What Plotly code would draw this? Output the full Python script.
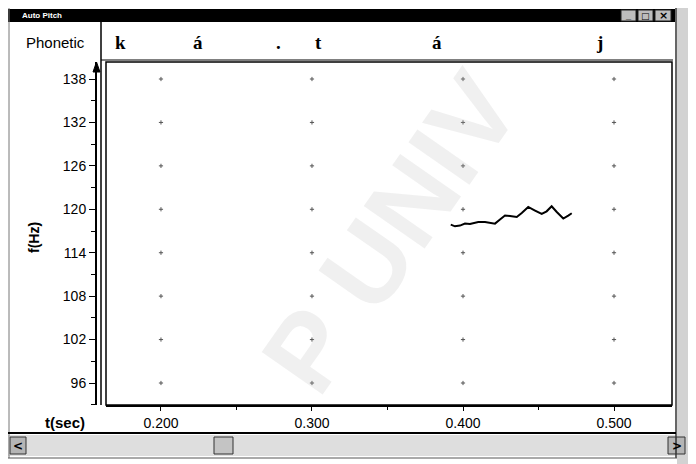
import plotly.graph_objects as go

# ---------------- data ----------------
time_s = [0.3919, 0.3947, 0.3980, 0.4013, 0.4046, 0.4068, 0.4101, 0.4146,
          0.4179, 0.4212, 0.4245, 0.4278, 0.4311, 0.4356, 0.4389, 0.4432,
          0.4477, 0.4521, 0.4554, 0.4587, 0.4621, 0.4664, 0.4697, 0.4720]
pitch_hz = [117.89, 117.65, 117.75, 118.02, 117.97, 118.11, 118.25, 118.25,
            118.11, 118.02, 118.58, 119.13, 119.07, 118.94, 119.49, 120.32,
            119.82, 119.35, 119.72, 120.41, 119.63, 118.72, 119.13, 119.45]

x_ticks = [0.2, 0.3, 0.4, 0.5]
x_tick_labels = ["0.200", "0.300", "0.400", "0.500"]
y_ticks = [96, 102, 108, 114, 120, 126, 132, 138]

phonetic_labels = ["k", "á", ".", "t", "á", "j"]
phonetic_times = [0.1735, 0.2245, 0.2775, 0.3046, 0.3828, 0.4901]

# the page body has an 8px margin, so the figure is drawn 8px in from the window corner
OFF = 8
W, H = 696 - OFF, 464 - OFF


def PX(px):
    return (px - OFF) / W


def PY(py):
    return 1 - (py - OFF) / H


fig = go.Figure()

# grid "+" marks at major tick intersections
gx = [t for t in x_ticks for _ in y_ticks]
gy = [v for _ in x_ticks for v in y_ticks]
fig.add_trace(go.Scatter(
    x=gx, y=gy, mode="markers",
    marker=dict(symbol="cross-thin", size=3, line=dict(width=1, color="#555555")),
    hoverinfo="skip", showlegend=False))

# pitch contour
fig.add_trace(go.Scatter(
    x=time_s, y=pitch_hz, mode="lines",
    line=dict(color="black", width=2), showlegend=False))

shapes = []


def rect(x0, y0, x1, y1, fill=None, line_color="black", lw=1):
    shapes.append(dict(type="rect", xref="paper", yref="paper",
                       x0=PX(x0), x1=PX(x1), y0=PY(y1), y1=PY(y0),
                       fillcolor=fill if fill else "rgba(0,0,0,0)",
                       line=dict(color=line_color, width=lw), layer="below" if fill else "above"))


def hline(x0, x1, y, lw=1, color="black"):
    shapes.append(dict(type="line", xref="paper", yref="paper",
                       x0=PX(x0), x1=PX(x1), y0=PY(y), y1=PY(y),
                       line=dict(color=color, width=lw)))


def vline(x, y0, y1, lw=1, color="black"):
    shapes.append(dict(type="line", xref="paper", yref="paper",
                       x0=PX(x), x1=PX(x), y0=PY(y0), y1=PY(y1),
                       line=dict(color=color, width=lw)))


# right neighbouring window strip
rect(677, 8, 696, 464, fill="#d2d2d2", line_color="#d2d2d2", lw=0)
# scrollbar
rect(8, 435, 676, 456, fill="#dedede", line_color="#dedede", lw=0)
# window frame
vline(9, 8, 458, lw=1, color="#777777")
vline(676, 8, 458, lw=1.5, color="#333333")
hline(8, 677, 458, lw=1, color="#555555")
# title bar
rect(8, 9, 675, 22, fill="black", line_color="black", lw=0)
# title buttons
rect(621, 10, 636, 21, fill="#bdbdbd", line_color="#222222", lw=1)
rect(638, 10, 653, 21, fill="#bdbdbd", line_color="#222222", lw=1)
rect(655, 10, 671, 21, fill="#bdbdbd", line_color="#222222", lw=1)
# phonetic row separators
vline(101, 22, 405, lw=1.5)
hline(101, 673, 60, lw=1)
# plot box
shapes.append(dict(type="rect", xref="x domain", yref="y domain", x0=0, x1=1, y0=0, y1=1,
                   line=dict(color="black", width=1.5)))
# bottom separator
hline(8, 676, 433, lw=2)
# scroll buttons and thumb
rect(10, 437, 26, 454, fill="#b5b5b5", line_color="#333333", lw=1)
rect(668, 437, 685, 454, fill="#b5b5b5", line_color="#333333", lw=1)
rect(214, 437, 233, 454, fill="#c4c4c4", line_color="#333333", lw=1)
# arrow at top of y axis
shapes.append(dict(type="path", xref="paper", yref="paper",
                   path=f"M {PX(93)} {PY(72)} L {PX(96.5)} {PY(62)} L {PX(100)} {PY(72)} Z",
                   fillcolor="black", line=dict(color="black", width=1)))

annotations = []
# phonetic transcription
for lab, t in zip(phonetic_labels, phonetic_times):
    annotations.append(dict(x=t, xref="x", y=PY(43), yref="paper", text=f"<b>{lab}</b>",
                            showarrow=False, xanchor="center", yanchor="middle",
                            font=dict(family="Liberation Serif", size=19, color="black")))
annotations += [
    dict(x=PX(55), y=PY(42), xref="paper", yref="paper", text="Phonetic", showarrow=False,
         xanchor="center", yanchor="middle",
         font=dict(family="Liberation Sans", size=15, color="black")),
    dict(x=PX(34), y=PY(238), xref="paper", yref="paper", text="<b>f(Hz)</b>", showarrow=False,
         textangle=-90, xanchor="center", yanchor="middle",
         font=dict(family="Liberation Sans", size=14, color="black")),
    dict(x=PX(65), y=PY(422), xref="paper", yref="paper", text="<b>t(sec)</b>", showarrow=False,
         xanchor="center", yanchor="middle",
         font=dict(family="Liberation Sans", size=15, color="black")),
    dict(x=PX(20), y=PY(15.5), xref="paper", yref="paper", text="<b>Auto Pitch</b>", showarrow=False,
         xanchor="left", yanchor="middle",
         font=dict(family="Liberation Sans", size=8, color="white")),
    dict(x=PX(628.5), y=PY(16), xref="paper", yref="paper", text="<b>_</b>", showarrow=False,
         xanchor="center", yanchor="middle", font=dict(family="Liberation Sans", size=9, color="black")),
    dict(x=PX(645.5), y=PY(15.5), xref="paper", yref="paper", text="<b>□</b>", showarrow=False,
         xanchor="center", yanchor="middle", font=dict(family="DejaVu Sans", size=9, color="black")),
    dict(x=PX(663), y=PY(15.5), xref="paper", yref="paper", text="<b>×</b>", showarrow=False,
         xanchor="center", yanchor="middle", font=dict(family="DejaVu Sans", size=11, color="black")),
    dict(x=PX(18), y=PY(445.5), xref="paper", yref="paper", text="<b>&lt;</b>", showarrow=False,
         xanchor="center", yanchor="middle", font=dict(family="DejaVu Sans", size=12, color="black")),
    dict(x=PX(676.5), y=PY(445.5), xref="paper", yref="paper", text="<b>&gt;</b>", showarrow=False,
         xanchor="center", yanchor="middle", font=dict(family="DejaVu Sans", size=12, color="black")),
    # scan watermark
    dict(x=PX(390), y=PY(232), xref="paper", yref="paper", text="<b>P UNIV</b>", showarrow=False,
         textangle=-55, xanchor="center", yanchor="middle",
         font=dict(family="Liberation Sans", size=108, color="rgba(180,180,180,0.2)")),
]

fig.update_layout(
    width=W, height=H,
    margin=dict(l=0, r=0, t=0, b=0),
    paper_bgcolor="white", plot_bgcolor="white",
    showlegend=False,
    shapes=shapes, annotations=annotations,
    xaxis=dict(domain=[PX(106), PX(672)], range=[0.1636, 0.5384], anchor="y",
               tickmode="array", tickvals=x_ticks, ticktext=x_tick_labels,
               ticks="outside", ticklen=4, tickcolor="black", tickwidth=1,
               showline=True, linecolor="black", linewidth=1.5,
               showgrid=False, zeroline=False,
               minor=dict(tickmode="linear", tick0=0.05, dtick=0.1, ticks="outside",
                          ticklen=3, tickcolor="black", showgrid=False),
               tickfont=dict(family="Liberation Sans", size=14, color="black")),
    yaxis=dict(domain=[PY(405), PY(62)], range=[92.96, 140.35], anchor="free",
               position=PX(96),
               tickmode="array", tickvals=y_ticks,
               ticks="outside", ticklen=6, tickcolor="black", tickwidth=1,
               showline=True, linecolor="black", linewidth=2,
               showgrid=False, zeroline=False,
               minor=dict(tickmode="linear", tick0=99, dtick=6, ticks="outside",
                          ticklen=4, tickcolor="black", showgrid=False),
               tickfont=dict(family="Liberation Sans", size=14, color="black")),
)

fig.write_html("out.html")
